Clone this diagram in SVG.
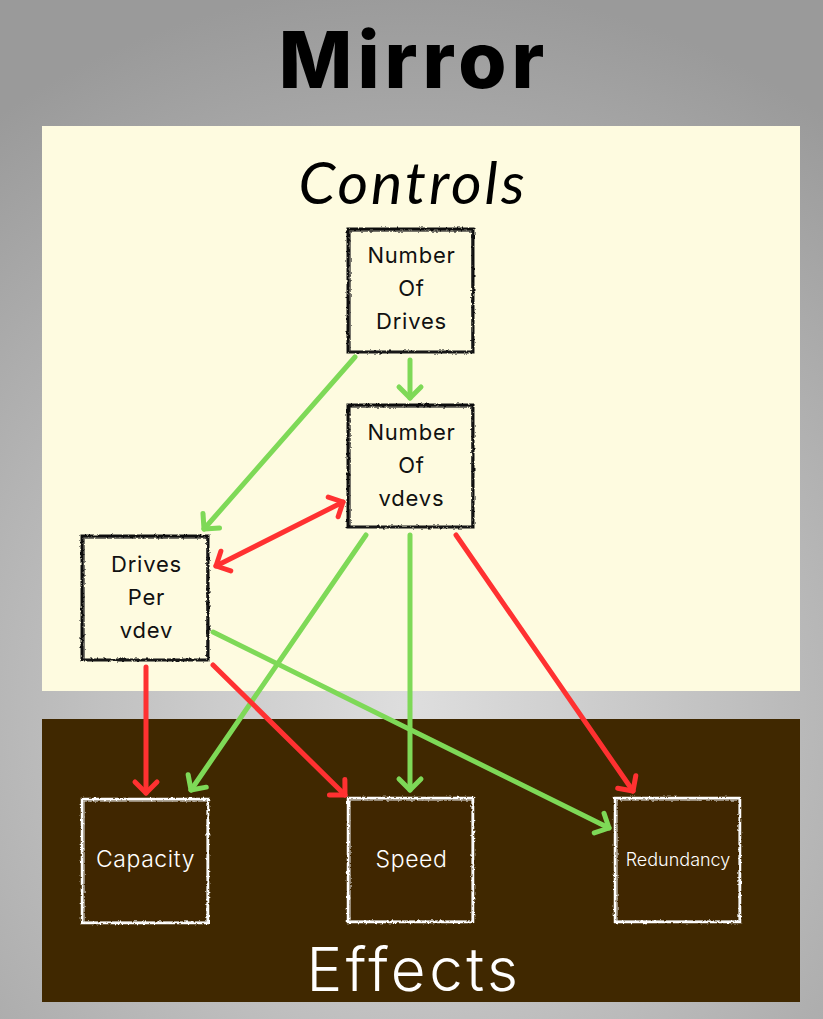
<svg xmlns="http://www.w3.org/2000/svg" width="823" height="1019" viewBox="0 0 823 1019">
<defs>
<radialGradient id="bg" cx="411" cy="705" r="720" gradientUnits="userSpaceOnUse">
<stop offset="0" stop-color="#dedede"/>
<stop offset="1" stop-color="#9a9a9a"/>
</radialGradient>
<filter id="rough" x="-10%" y="-10%" width="120%" height="120%">
<feTurbulence type="fractalNoise" baseFrequency="0.35" numOctaves="2" seed="3" result="n"/>
<feDisplacementMap in="SourceGraphic" in2="n" scale="3" xChannelSelector="R" yChannelSelector="G"/>
</filter>
<marker id="ag" viewBox="-20 -20 40 40" markerWidth="40" markerHeight="40" markerUnits="userSpaceOnUse" orient="auto-start-reverse" overflow="visible">
<path d="M -11 -11 L 0 0 L -11 11" fill="none" stroke="#7ed957" stroke-width="5" stroke-linecap="round" stroke-linejoin="round"/>
</marker>
<marker id="ar" viewBox="-20 -20 40 40" markerWidth="40" markerHeight="40" markerUnits="userSpaceOnUse" orient="auto-start-reverse" overflow="visible">
<path d="M -11 -11 L 0 0 L -11 11" fill="none" stroke="#ff3131" stroke-width="5" stroke-linecap="round" stroke-linejoin="round"/>
</marker>
</defs>
<style>
.ctl rect.b{fill:#fefbe0;stroke:#111;stroke-width:3;filter:url(#rough)}
.ctl rect.b2{fill:none;stroke:#222;stroke-width:1.2;filter:url(#rough)}
.eff rect.b{fill:#402800;stroke:#fff;stroke-width:2.5;filter:url(#rough)}
.eff rect.b2{fill:none;stroke:#eee;stroke-width:1;filter:url(#rough)}
.ct{font-family:Inter,"Noto Sans",sans-serif;font-size:22px;letter-spacing:0.8px;fill:#111;text-anchor:middle}
.et{font-family:Inter,"Noto Sans",sans-serif;font-size:23px;font-weight:300;letter-spacing:0.6px;fill:#fff;text-anchor:middle}
.et.small{font-size:18px;letter-spacing:0}
.g{stroke:#7ed957;stroke-width:5;stroke-linecap:round;fill:none;marker-end:url(#ag)}
.r{stroke:#ff3131;stroke-width:5;stroke-linecap:round;fill:none;marker-end:url(#ar)}
</style>
<rect width="823" height="1019" fill="url(#bg)"/>
<rect x="42" y="126" width="758" height="565" fill="#fefbe0"/>
<rect x="42" y="719" width="758" height="283" fill="#402800"/>
<text x="414" y="88" font-family="Inter,'Noto Sans',sans-serif" font-weight="800" font-size="78" letter-spacing="5" text-anchor="middle" fill="#000">Mirror</text>
<text x="413" y="204" font-family="Lato,'Noto Sans',sans-serif" font-style="italic" font-size="59" letter-spacing="3" text-anchor="middle" fill="#000">Controls</text>
<text x="414" y="991" font-family="Inter,'Noto Sans',sans-serif" font-weight="300" font-size="60" letter-spacing="3.5" text-anchor="middle" fill="#fff">Effects</text>

<g id="connectors">
<line class="g" x1="410" y1="360" x2="410" y2="398"/>
<line class="g" x1="355" y1="357" x2="204" y2="529"/>
<line class="r" x1="216" y1="566" x2="343" y2="502" marker-start="url(#ar)"/>
<line class="g" x1="366" y1="535" x2="191" y2="790"/>
<line class="g" x1="410" y1="535" x2="410" y2="790"/>
<line class="r" x1="456" y1="535" x2="633" y2="791"/>
<line class="g" x1="213" y1="632" x2="609" y2="828"/>
<line class="r" x1="146" y1="667" x2="146" y2="793"/>
<line class="r" x1="213" y1="665" x2="345" y2="795"/>
</g>

<g id="node-number-of-drives" class="ctl">
<rect class="b" x="348" y="229" width="125" height="123"/>
<rect class="b2" x="350" y="231" width="122" height="121"/>
<text class="ct" x="411.5" y="263">Number</text>
<text class="ct" x="411.5" y="296">Of</text>
<text class="ct" x="411.5" y="329">Drives</text>
</g>
<g id="node-number-of-vdevs" class="ctl">
<rect class="b" x="348" y="405" width="125" height="122"/>
<rect class="b2" x="350" y="407" width="122" height="120"/>
<text class="ct" x="411.5" y="440">Number</text>
<text class="ct" x="411.5" y="473">Of</text>
<text class="ct" x="411.5" y="506">vdevs</text>
</g>
<g id="node-drives-per-vdev" class="ctl">
<rect class="b" x="82" y="536" width="126" height="124"/>
<rect class="b2" x="84" y="538" width="123" height="122"/>
<text class="ct" x="146.5" y="572">Drives</text>
<text class="ct" x="146.5" y="605">Per</text>
<text class="ct" x="146.5" y="638">vdev</text>
</g>
<g id="node-capacity" class="eff">
<rect class="b" x="82" y="799" width="126" height="124"/>
<rect class="b2" x="84" y="801" width="123" height="121"/>
<text class="et" x="145.5" y="867">Capacity</text>
</g>
<g id="node-speed" class="eff">
<rect class="b" x="348" y="798" width="125" height="124"/>
<rect class="b2" x="350" y="800" width="122" height="121"/>
<text class="et" x="411.5" y="867">Speed</text>
</g>
<g id="node-redundancy" class="eff">
<rect class="b" x="615" y="798" width="125" height="124"/>
<rect class="b2" x="617" y="800" width="122" height="121"/>
<text class="et small" x="678" y="866">Redundancy</text>
</g>
</svg>
